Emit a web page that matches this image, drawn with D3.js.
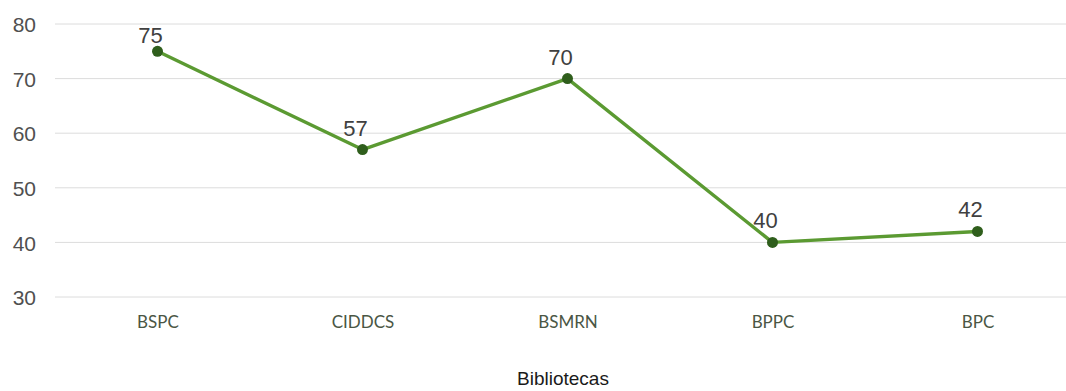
<!DOCTYPE html>
<html><head><meta charset="utf-8">
<script src="https://cdn.jsdelivr.net/npm/d3@7"></script>
<style>body{margin:0;background:#fff}svg{display:block}</style>
</head><body>
<svg id="c" width="1066" height="391"></svg>
<script>
const categories = ["BSPC","CIDDCS","BSMRN","BPPC","BPC"];
const values = [75,57,70,40,42];
const yTicks = [30,40,50,60,70,80];
const xTitle = "Bibliotecas";

const svg = d3.select("#c");
const x = d3.scalePoint().domain(categories).range([55,1080]).padding(0.5);
const y = d3.scaleLinear().domain([30,80]).range([297,24]);

// gridlines
svg.append("g").selectAll("line").data(yTicks).join("line")
  .attr("x1",55).attr("x2",1066)
  .attr("y1",d=>y(d)).attr("y2",d=>y(d))
  .attr("stroke","#dcdcdc").attr("stroke-width",1);

// y axis labels
const ya = svg.append("g").attr("transform","translate(36,1)")
  .call(d3.axisLeft(y).tickValues(yTicks).tickSize(0).tickPadding(0));
ya.select(".domain").remove();
ya.selectAll("text").attr("font-family","Liberation Sans, Arial, sans-serif")
  .attr("font-size",21).attr("fill","#505050");

// x axis labels
const xa = svg.append("g").attr("transform","translate(0,316)")
  .call(d3.axisBottom(x).tickSize(0).tickPadding(0));
xa.select(".domain").remove();
xa.selectAll("text").attr("font-family","Lato, Open Sans, sans-serif")
  .attr("font-size",17).attr("fill","#4a5644");

// x title
svg.append("text").attr("x",563).attr("y",385).attr("text-anchor","middle")
  .attr("font-family","Liberation Sans, Arial, sans-serif").attr("font-size",19)
  .attr("fill","#1a1a1a").text(xTitle);

// line
const line = d3.line().x((d,i)=>x(categories[i])).y(d=>y(d));
svg.append("path").datum(values).attr("d",line)
  .attr("fill","none").attr("stroke","#5b9a32").attr("stroke-width",3.4)
  .attr("stroke-linejoin","round");

svg.append("g").selectAll("circle").data(values).join("circle")
  .attr("cx",(d,i)=>x(categories[i])).attr("cy",d=>y(d)).attr("r",5.5)
  .attr("fill","#2f5e1c");

// labels
svg.append("g").selectAll("text").data(values).join("text")
  .attr("x",(d,i)=>x(categories[i])-7).attr("y",d=>Math.max(43,y(d)-14))
  .attr("text-anchor","middle")
  .attr("font-family","Liberation Sans, Arial, sans-serif").attr("font-size",22)
  .attr("fill","#404040").text(d=>d);
</script>
</body></html>
